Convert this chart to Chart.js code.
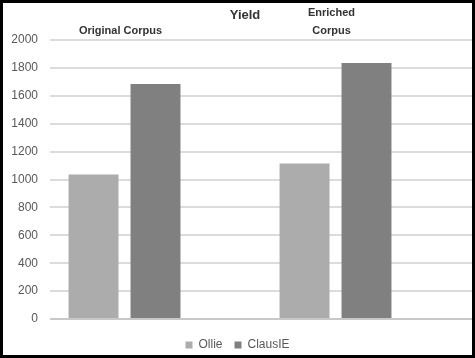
<!DOCTYPE html>
<html>
<head>
<meta charset="utf-8">
<script src="https://cdn.jsdelivr.net/npm/chart.js@4/dist/chart.umd.min.js"></script>
<style>
  html, body { margin: 0; padding: 0; background: #fff; }
  #wrap { width: 475px; height: 358px; box-sizing: border-box; border: 3px solid #000; background: #fff; position: relative; }
  canvas { display: block; }
</style>
</head>
<body>
<div id="wrap"><canvas id="c" width="469" height="352"></canvas></div>
<script>
const chartTitle = 'Yield';
const categories = ['Original Corpus', 'Enriched Corpus'];
const categoryLabelLines = [['Original Corpus'], ['Enriched', 'Corpus']];
const seriesNames = ['Ollie', 'ClausIE'];
const ollieValues = [1035, 1115];
const clausieValues = [1685, 1835];
const emptySlot = [null, null];
const yTicks = [0, 200, 400, 600, 800, 1000, 1200, 1400, 1600, 1800, 2000];

const textPlugin = {
  id: 'textPlugin',
  afterDraw(chart) {
    const ctx = chart.ctx;
    const xs = chart.scales.x;
    ctx.save();
    ctx.textAlign = 'center';
    ctx.textBaseline = 'middle';
    ctx.fillStyle = '#333333';
    ctx.font = 'bold 13px "Liberation Sans", Arial, sans-serif';
    ctx.fillText(chartTitle, 242, 12);
    ctx.font = 'bold 11px "Liberation Sans", Arial, sans-serif';
    categoryLabelLines.forEach((lines, i) => {
      const cx = xs.getPixelForValue(i) - 35;
      const n = lines.length;
      lines.forEach((ln, j) => {
        const y = 28 - (n - 1 - j) * 18;
        ctx.fillText(ln, cx, y);
      });
    });
    ctx.restore();
  }
};

new Chart(document.getElementById('c'), {
  type: 'bar',
  data: {
    labels: categories,
    datasets: [
      { label: seriesNames[0], data: ollieValues, backgroundColor: '#acacac' },
      { label: seriesNames[1], data: clausieValues, backgroundColor: '#808080' },
      { label: '', data: emptySlot, backgroundColor: 'rgba(0,0,0,0)' }
    ]
  },
  options: {
    responsive: false,
    animation: false,
    datasets: { bar: { categoryPercentage: 0.881, barPercentage: 0.806 } },
    layout: { padding: { top: 37, right: 0, left: 0, bottom: -6 } },
    plugins: {
      title: { display: false },
      tooltip: { enabled: false },
      legend: {
        position: 'bottom',
        labels: {
          filter: (item) => item.text !== '',
          boxWidth: 7, boxHeight: 7,
          padding: 12,
          color: '#595959',
          font: { family: '"Liberation Sans", Arial, sans-serif', size: 12 }
        }
      }
    },
    scales: {
      x: {
        ticks: { display: false },
        grid: { display: false },
        border: { display: false }
      },
      y: {
        min: 0, max: 2000,
        afterBuildTicks: (s) => { s.ticks = yTicks.map(v => ({ value: v })); },
        afterFit: (s) => { s.width = 47; },
        ticks: {
          padding: 12,
          color: '#595959',
          callback: (v) => String(v),
          font: { family: '"Liberation Sans", Arial, sans-serif', size: 12 }
        },
        grid: {
          drawTicks: false,
          lineWidth: 2,
          color: (c) => c.tick && c.tick.value === 0 ? '#c8c8c8' : '#dcdcdc'
        },
        border: { display: false }
      }
    }
  },
  plugins: [textPlugin]
});
</script>
</body>
</html>
